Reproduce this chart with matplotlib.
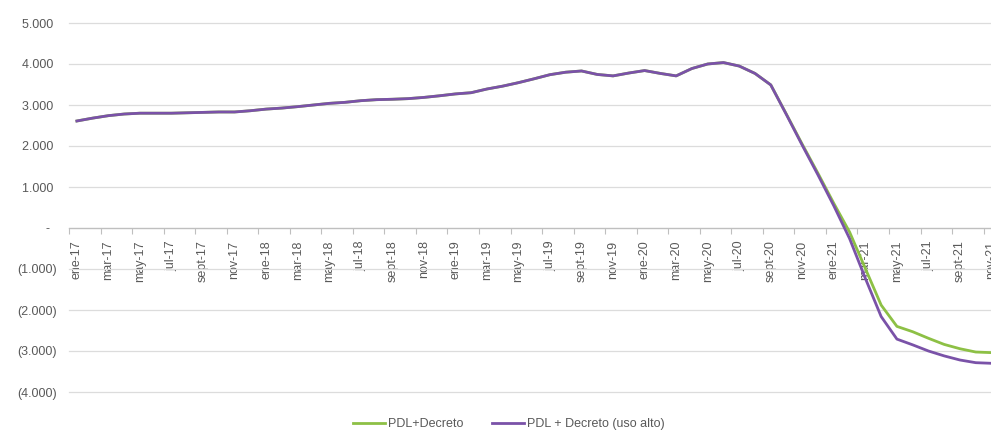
import matplotlib
matplotlib.use("Agg")
import matplotlib.pyplot as plt
from matplotlib.ticker import FuncFormatter, FixedLocator

plt.rcParams['font.family'] = ['Liberation Sans', 'DejaVu Sans']

month_names = ["ene", "feb", "mar", "abr", "may", "jun", "jul", "ago", "sept", "oct", "nov", "dic"]
years = ["17", "18", "19", "20", "21"]
categories = [f"{m}-{y}" for y in years for m in month_names]

pdl_decreto = [
    2610, 2680, 2740, 2780, 2800, 2800, 2800, 2810, 2820, 2830, 2830, 2860,
    2900, 2925, 2960, 3000, 3040, 3065, 3105, 3130, 3140, 3155, 3185, 3225,
    3270, 3300, 3390, 3460, 3545, 3640, 3740, 3800, 3830, 3745, 3710, 3780,
    3840, 3770, 3710, 3890, 4000, 4035, 3950, 3770, 3490, 2770, 2040, 1330,
    600, -100, -990, -1880, -2400, -2530, -2690, -2840, -2945, -3025, -3040, -3045,
]
pdl_decreto_alto = [
    2610, 2680, 2740, 2780, 2800, 2800, 2800, 2810, 2820, 2830, 2830, 2860,
    2900, 2925, 2960, 3000, 3040, 3065, 3105, 3130, 3140, 3155, 3185, 3225,
    3270, 3300, 3390, 3460, 3545, 3640, 3740, 3800, 3830, 3745, 3710, 3780,
    3840, 3770, 3710, 3890, 4000, 4035, 3950, 3770, 3490, 2760, 2015, 1290,
    540, -260, -1230, -2160, -2710, -2850, -3000, -3120, -3220, -3285, -3300, -3310,
]
series_names = ["PDL+Decreto", "PDL + Decreto (uso alto)"]
y_ticks = [-4000, -3000, -2000, -1000, 0, 1000, 2000, 3000, 4000, 5000]

GREEN = "#8DC045"
PURPLE = "#7A52A8"
TXT = "#595959"

W, H = 991, 433
fig = plt.figure(figsize=(W / 100, H / 100), dpi=100)
left_px, right_px = 69, 69 + 60 * 15.77
top_px, bot_px = 23, 392
ax = fig.add_axes([left_px / W, 1 - bot_px / H, (right_px - left_px) / W, (bot_px - top_px) / H])

x = list(range(len(categories)))
l1, = ax.plot(x, pdl_decreto, color=GREEN, lw=2.0, solid_joinstyle='round', label=series_names[0], zorder=3)
l2, = ax.plot(x, pdl_decreto_alto, color=PURPLE, lw=2.0, solid_joinstyle='round', label=series_names[1], zorder=4)

ax.set_xlim(-0.5, len(categories) - 0.5)
ax.set_ylim(-4000, 5000)

def yfmt(v, pos):
    v = int(round(v))
    if v == 0:
        return "-  "
    s = f"{abs(v):,}".replace(",", ".")
    return f"({s})" if v < 0 else s + " "

ax.yaxis.set_major_locator(FixedLocator(y_ticks))
ax.yaxis.set_major_formatter(FuncFormatter(yfmt))
ax.grid(axis='y', color="#DCDCDC", lw=0.9, zorder=0)
for gl in ax.get_ygridlines():
    gl.set_clip_on(False)
ax.tick_params(axis='y', length=0, pad=9, labelsize=9, labelcolor=TXT)

label_pos = x[::2]
ax.set_xticks(label_pos)
ax.set_xticklabels(categories[::2])
ax.set_xticks([i - 0.5 for i in range(0, len(categories) + 1, 2)], minor=True)
ax.tick_params(axis='x', which='major', length=0, pad=9, labelsize=9, labelcolor=TXT, labelrotation=90)
ax.tick_params(axis='x', which='minor', length=4, width=0.8, color="#BFBFBF", direction='out')
for lbl in ax.get_xticklabels():
    lbl.set_rotation(90)
    lbl.set_va('top')
    lbl.set_ha('center')

for s in ['top', 'right', 'left']:
    ax.spines[s].set_visible(False)
ax.spines['bottom'].set_position(('data', 0))
ax.spines['bottom'].set_color("#BFBFBF")
ax.spines['bottom'].set_linewidth(0.9)

fig.legend([l1, l2], series_names, loc='center', bbox_to_anchor=(0.513, 0.021), ncol=2,
           frameon=False, fontsize=9, labelcolor=TXT, handlelength=2.6,
           handletextpad=0.2, columnspacing=2.3)

fig.savefig("out.png", dpi=100)
